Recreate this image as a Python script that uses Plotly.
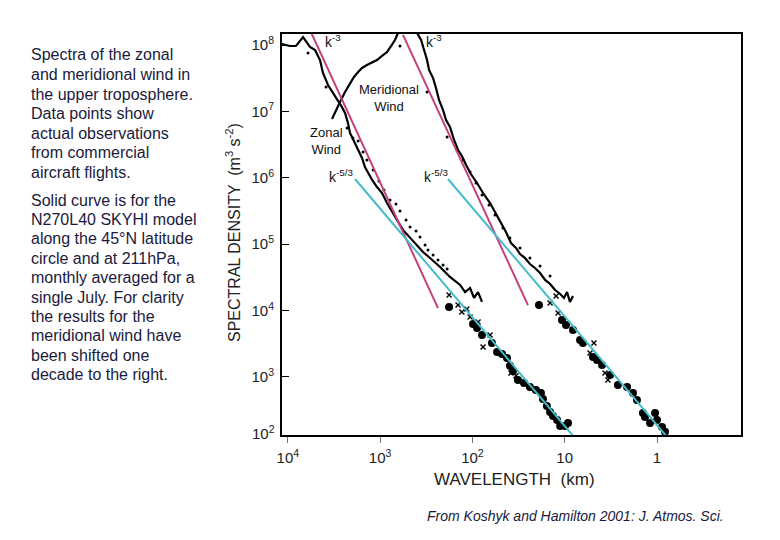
import plotly.graph_objects as go

# ---------------- data ----------------
# SKYHI model spectra (solid black curves); wavelength in km, density in m^3 s^-2
zonal_model_wavelength = [11600, 9460, 8150, 6840, 5750, 5070, 4480, 4160, 3670, 3240,
                          2860, 2590, 2400, 2230, 2120, 2020, 1870, 1730, 1570, 1460,
                          1350, 1220, 1080, 953, 842, 743, 656, 565, 474, 398,
                          343, 288, 224, 175, 136, 120, 106, 96.1, 86.9, 78.7]
zonal_model_density = [1.03e8, 9.66e7, 9.66e7, 1.32e8, 9.33e7, 8.41e7, 5.94e7, 3.79e7, 2.50e7, 1.89e7,
                       1.49e7, 1.16e7, 9.46e6, 6.69e6, 4.73e6, 4.11e6, 3.12e6, 2.62e6, 1.99e6, 1.45e6,
                       1.18e6, 9.27e5, 7.26e5, 5.90e5, 4.17e5, 3.05e5, 2.31e5, 1.64e5, 1.24e5, 9.72e4,
                       7.63e4, 6.19e4, 4.54e4, 3.21e4, 2.43e4, 1.90e4, 2.19e4, 1.55e4, 1.90e4, 1.35e4]

merid_model_wavelength = [3320, 3010, 2720, 2400, 2120, 1920, 1730, 1570, 1390, 1220,
                          1080, 953, 842, 762, 690, 640, 512, 398, 360, 334,
                          310, 295, 267, 248, 230, 208, 193, 175, 158, 143,
                          130, 117, 104, 89.1, 76.7, 64.4, 55.5, 49.0, 43.3, 38.2,
                          33.7, 30.5, 26.9, 23.8, 21.0, 18.5, 16.3, 14.4, 12.7, 11.2,
                          10.2, 9.44, 8.77, 8.13]
merid_model_density = [7.69e6, 1.05e7, 1.39e7, 1.96e7, 2.68e7, 3.30e7, 3.93e7, 4.51e7, 5.00e7, 5.55e7,
                       5.94e7, 6.84e7, 7.85e7, 9.66e7, 1.19e8, 1.52e8, 2.83e8, 1.52e8, 1.19e8, 8.41e7,
                       5.94e7, 4.21e7, 3.18e7, 2.25e7, 1.49e7, 1.05e7, 7.42e6, 5.82e6, 3.71e6, 2.62e6,
                       2.13e6, 1.56e6, 1.14e6, 8.35e5, 5.90e5, 4.17e5, 2.85e5, 2.16e5, 1.53e5, 1.04e5,
                       8.77e4, 7.12e4, 6.19e4, 5.03e4, 4.38e4, 3.68e4, 2.89e4, 2.52e4, 2.04e4, 1.78e4,
                       1.55e4, 1.90e4, 1.35e4, 1.66e4]

# aircraft observations: small dots, crosses and large dots
zonal_obs_small_wavelength = [6040, 3850, 2280, 1970, 1730, 1530, 1390, 1190, 1030, 908,
                              781, 673, 609, 524, 474, 408, 370, 326, 303, 267, 236, 208, 188]
zonal_obs_small_density = [7.58e7, 2.33e7, 5.62e6, 3.97e6, 3.58e6, 2.45e6, 1.85e6, 1.31e6, 8.95e5, 6.55e5,
                           4.63e5, 4.03e5, 3.16e5, 2.31e5, 1.82e5, 1.58e5, 1.28e5, 9.72e4, 8.18e4, 6.87e4,
                           5.78e4, 4.86e4, 4.24e4]
zonal_obs_cross_wavelength = [179, 143, 130, 115, 106, 86.9, 76.7, 64.4, 38.2, 33.7]
zonal_obs_cross_density = [1.72e4, 1.21e4, 9.52e3, 1.06e4, 8.00e3, 6.73e3, 2.83e3, 4.30e3, 1.15e3, 1.04e3]
zonal_obs_large_wavelength = [179, 98.4, 89.1, 78.7, 61.4, 54.1, 47.8, 42.2, 39.2, 36.3,
                              32.1, 27.6, 23.8, 20.5, 18.1, 17.2, 15.6, 14.4, 13.4, 12.1,
                              11.2, 9.93, 9.21]
zonal_obs_large_density = [1.13e4, 6.28e3, 5.47e3, 4.30e3, 3.25e3, 2.38e3, 2.22e3, 1.93e3, 1.47e3, 1.23e3,
                           901, 812, 708, 637, 574, 467, 366, 297, 259, 225,
                           183, 183, 203]

merid_obs_small_wavelength = [609, 310, 188, 147, 126, 106, 91.4, 78.7, 66.1, 56.9,
                              46.6, 39.2, 30.5, 23.8, 18.5, 14.4]
merid_obs_small_density = [9.66e7, 1.96e7, 4.11e6, 2.62e6, 1.85e6, 1.22e6, 8.35e5, 5.51e5, 3.89e5, 2.75e5,
                           1.75e5, 1.24e5, 8.77e4, 6.19e4, 4.70e4, 3.32e4]
merid_obs_cross_wavelength = [14.4, 12.4, 11.8, 4.82, 5.32, 3.66, 3.40]
merid_obs_cross_density = [1.30e4, 1.66e4, 9.20e3, 3.25e3, 2.30e3, 1.15e3, 901]
merid_obs_large_wavelength = [19.0, 10.7, 9.68, 8.13, 6.82, 6.34, 4.94, 4.47, 3.94, 3.23,
                              2.65, 2.11, 1.82, 1.65, 1.42, 1.35, 1.19, 1.05, 1.00, 0.883, 0.819]
merid_obs_large_density = [1.21e4, 7.21e3, 6.07e3, 5.10e3, 3.61e3, 3.25e3, 2.00e3, 1.80e3, 1.51e3, 1.07e3,
                           757, 708, 574, 451, 287, 250, 203, 287, 225, 177, 149]

# reference slopes k^-3 and k^-5/3 (end points)
k3_zonal_wavelength = [5750, 236]
k3_zonal_density = [1.68e8, 1.09e4]
k3_merid_wavelength = [565, 25.0]
k3_merid_density = [1.42e8, 1.21e4]
k53_zonal_wavelength = [1870, 7.93]
k53_zonal_density = [9.59e5, 125]
k53_merid_wavelength = [184, 0.779]
k53_merid_density = [9.59e5, 125]

x_tick_values = [1e4, 1e3, 1e2, 10, 1]
x_tick_labels = ["10<sup>4</sup>", "10<sup>3</sup>", "10<sup>2</sup>", "10", "1"]
y_tick_values = [1e3, 1e4, 1e5, 1e6, 1e7, 1e8]
y_tick_labels = ["10<sup>3</sup>", "10<sup>4</sup>", "10<sup>5</sup>",
                 "10<sup>6</sup>", "10<sup>7</sup>", "10<sup>8</sup>"]

caption_1 = ["Spectra of the zonal", "and meridional wind in", "the upper troposphere.",
             "Data points show", "actual observations", "from commercial", "aircraft flights."]
caption_2 = ["Solid curve is for the", "N270L40 SKYHI model", "along the 45°N latitude",
             "circle and at 211hPa,", "monthly averaged for a", "single July. For clarity",
             "the results for the", "meridional wind have", "been shifted one",
             "decade to the right."]
source_text = "From Koshyk and Hamilton 2001: J. Atmos. Sci."

# ---------------- layout helpers (page pixel -> paper) ----------------
OFF = 8                       # default page margin around the figure
W, H = 780 - 2 * OFF, 540 - 2 * OFF
PL, PR, PT, PB = 282, 741, 34, 435   # plot frame in page pixels
def xp(px):
    return (px - PL) / (PR - PL)
def yp(py):
    return (PB - py) / (PB - PT)

FONT = "Liberation Sans, Arial, Helvetica, sans-serif"
TXT = "#1a1a3c"
MAGENTA = "#c4407c"
CYAN = "#45bccb"

fig = go.Figure()

def dots(x, y, size, symbol="circle", lw=0):
    fig.add_trace(go.Scatter(x=x, y=y, mode="markers", showlegend=False, hoverinfo="skip",
                             marker=dict(color="black", size=size, symbol=symbol,
                                         line=dict(width=lw, color="black"))))

dots(zonal_obs_small_wavelength, zonal_obs_small_density, 3)
dots(merid_obs_small_wavelength, merid_obs_small_density, 3)
dots(zonal_obs_large_wavelength, zonal_obs_large_density, 8)
dots(merid_obs_large_wavelength, merid_obs_large_density, 8)
dots(zonal_obs_cross_wavelength, zonal_obs_cross_density, 5, "x-thin", 1.4)
dots(merid_obs_cross_wavelength, merid_obs_cross_density, 5, "x-thin", 1.4)

for xs, ys in [(zonal_model_wavelength, zonal_model_density),
               (merid_model_wavelength, merid_model_density)]:
    fig.add_trace(go.Scatter(x=xs, y=ys, mode="lines", showlegend=False, hoverinfo="skip",
                             line=dict(color="black", width=2.2)))

for xs, ys, c in [(k3_zonal_wavelength, k3_zonal_density, MAGENTA),
                  (k3_merid_wavelength, k3_merid_density, MAGENTA),
                  (k53_zonal_wavelength, k53_zonal_density, CYAN),
                  (k53_merid_wavelength, k53_merid_density, CYAN)]:
    fig.add_trace(go.Scatter(x=xs, y=ys, mode="lines", showlegend=False, hoverinfo="skip",
                             line=dict(color=c, width=2)))

ann = []
def text(px, py, s, size=14, color="#111", xanchor="center", italic=False, angle=0):
    ann.append(dict(x=xp(px), y=yp(py), xref="paper", yref="paper", text=s, showarrow=False,
                    xanchor=xanchor, yanchor="middle", textangle=angle,
                    font=dict(family=FONT, size=size, color=color,
                              style="italic" if italic else "normal")))

# in-plot labels
text(333, 41, "k<sup>-3</sup>", 14)
text(434, 41, "k<sup>-3</sup>", 14)
text(389, 98, "Meridional<br>Wind", 13)
text(326, 141, "Zonal<br>Wind", 13)
text(341, 176, "k<sup>-5/3</sup>", 14)
text(436, 176, "k<sup>-5/3</sup>", 14)

# lowest y tick label, partly below the frame
text(277, 432, "10<sup>2</sup>", 15, "#222", xanchor="right")

# axis titles
text(233, 233, "SPECTRAL DENSITY  (m<sup>3</sup> s<sup>-2</sup>)", 16, "#222", angle=-90)
text(514, 479, "WAVELENGTH  (km)", 17, "#222")

# caption block
for i, s in enumerate(caption_1):
    text(29, 55 + 19.5 * i, s, 16, TXT, xanchor="left")
for i, s in enumerate(caption_2):
    text(29, 200 + 19.4 * i, s, 16, TXT, xanchor="left")
text(425, 516, source_text, 14, TXT, xanchor="left", italic=True)

fig.update_layout(
    width=W, height=H,
    margin=dict(l=PL - OFF, r=(W + OFF) - PR, t=PT - OFF, b=(H + OFF) - PB, pad=0),
    paper_bgcolor="white", plot_bgcolor="white",
    annotations=ann,
    xaxis=dict(type="log", range=[4.063, -0.910], showgrid=False, zeroline=False,
               showline=True, linecolor="black", linewidth=2, mirror=True,
               ticks="outside", ticklen=6, tickwidth=1, tickcolor="#777",
               tickvals=x_tick_values, ticktext=x_tick_labels,
               tickfont=dict(family=FONT, size=15, color="#222"), ticklabelstandoff=2),
    yaxis=dict(type="log", range=[2.126, 8.166], showgrid=False, zeroline=False,
               showline=True, linecolor="black", linewidth=2, mirror=True,
               ticks="inside", ticklen=7, tickwidth=1.2, tickcolor="black",
               tickvals=y_tick_values, ticktext=y_tick_labels,
               tickfont=dict(family=FONT, size=15, color="#222"), ticklabelstandoff=3),
)

fig.write_html("out.html")
